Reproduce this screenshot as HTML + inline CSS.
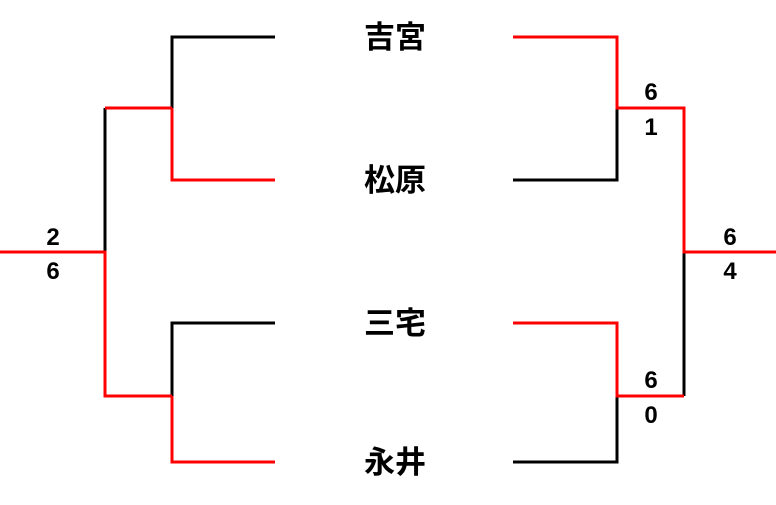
<!DOCTYPE html>
<html><head><meta charset="utf-8"><style>
body{margin:0;background:#fff;width:776px;height:500px;overflow:hidden}
text{font-family:"Liberation Sans","Noto Sans CJK JP",sans-serif;font-weight:bold}
</style></head><body>
<svg width="776" height="500" xmlns="http://www.w3.org/2000/svg" stroke-width="3" fill="none">
<g stroke="#000">
<path d="M275 37H172V108"/>
<path d="M105 252V108"/>
<path d="M275 323H172V396"/>
<path d="M617 108V180H513"/>
<path d="M684 252V396"/>
<path d="M617 396V462H513"/>
</g>
<g stroke="#f00">
<path d="M172 108V180H275"/>
<path d="M105 108H172"/>
<path d="M0 252H105V396H172"/>
<path d="M172 396V462H275"/>
<path d="M513 37H617V108H684V252H776"/>
<path d="M513 323H617V396H684"/>
</g>
<g fill="#000" stroke="none" text-anchor="middle">
<text x="395" y="48" font-size="31">吉宮</text>
<text x="395" y="191" font-size="31">松原</text>
<text x="395" y="334" font-size="31">三宅</text>
<text x="395" y="473" font-size="31">永井</text>
<text x="53" y="245" font-size="24">2</text>
<text x="53" y="279" font-size="24">6</text>
<text x="651" y="100" font-size="24">6</text>
<text x="651" y="135" font-size="24">1</text>
<text x="651" y="388" font-size="24">6</text>
<text x="651" y="423" font-size="24">0</text>
<text x="730" y="245" font-size="24">6</text>
<text x="730" y="279" font-size="24">4</text>
</g>
</svg>
</body></html>
